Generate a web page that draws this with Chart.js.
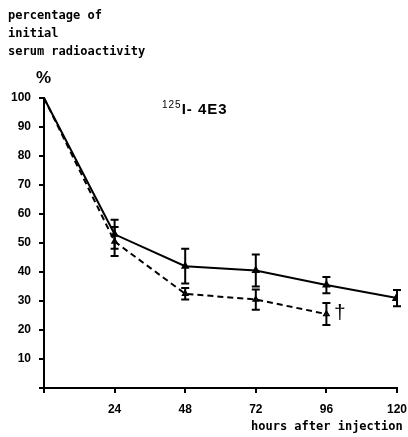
<!DOCTYPE html>
<html>
<head>
<meta charset="utf-8">
<script src="https://cdn.jsdelivr.net/npm/chart.js@4"></script>
<style>
  body { margin: 0; background: #fff; }
  #wrap { position: relative; width: 408px; height: 437px; }
  canvas { position: absolute; left: 0; top: 0; }
  .lbl { position: absolute; font-family: "DejaVu Sans Mono", monospace; font-size: 12px; font-weight: bold; color: #000; white-space: nowrap; }
  .sans { position: absolute; font-family: "Liberation Sans", Arial, sans-serif; font-weight: bold; color: #000; white-space: nowrap; }
</style>
</head>
<body>
<div id="wrap">
  <canvas id="chart" width="408" height="437"></canvas>
  <div class="lbl" style="left:8px;top:8px">percentage of</div>
  <div class="lbl" style="left:8px;top:26px">initial</div>
  <div class="lbl" style="left:8px;top:44px">serum radioactivity</div>
  <div class="sans" style="left:36px;top:68px;font-size:17px">%</div>
  <div class="sans" style="left:162px;top:99px;font-size:15px;letter-spacing:1px"><sup style="font-size:10px;font-weight:normal">125</sup>I- 4E3</div>
  <div class="lbl" style="left:251px;top:419px">hours after injection</div>
  <div class="sans" style="left:334px;top:300px;font-size:21px;font-weight:normal">†</div>
</div>
<script>
var hours = [0, 24, 48, 72, 96, 120];
var solidMean = [100, 53, 42, 40.5, 35.5, 31];
var solidErr = [0, 5, 6, 5.5, 2.8, 2.8];
var dashedHours = [0, 24, 48, 72, 96];
var dashedMean = [100, 50.5, 32.5, 30.5, 25.5];
var dashedErr = [0, 5, 2, 3.5, 3.8];

function toPoints(xs, ys) {
  var pts = [];
  for (i = 0; i < xs.length; i++) {
    pts.push({ x: xs[i], y: ys[i] });
  }
  return pts;
}

// vertical error bars with caps, drawn through the chart scales
var errorBars = {
  id: 'errorBars',
  afterDatasetsDraw: function(chart) {
    var ctx = chart.ctx;
    var xs = chart.scales.x, ys = chart.scales.y;
    chart.data.datasets.forEach(function(ds) {
      if (!ds.err) return;
      ctx.save();
      ctx.strokeStyle = '#000';
      ctx.lineWidth = 2;
      ds.data.forEach(function(p, i) {
        var e = ds.err[i];
        if (!e) return;
        var x = xs.getPixelForValue(p.x);
        var top = ys.getPixelForValue(p.y + e);
        var bot = ys.getPixelForValue(p.y - e);
        ctx.beginPath();
        ctx.moveTo(x, top); ctx.lineTo(x, bot);
        ctx.moveTo(x - 4, top); ctx.lineTo(x + 4, top);
        ctx.moveTo(x - 4, bot); ctx.lineTo(x + 4, bot);
        ctx.stroke();
      });
      ctx.restore();
    });
  }
};

var ctx = document.getElementById('chart');
var myChart = new Chart(ctx, {
  type: 'line',
  data: {
    datasets: [{
      data: toPoints(hours, solidMean),
      err: solidErr,
      borderColor: '#000',
      borderWidth: 2,
      pointStyle: 'triangle',
      pointRadius: [0, 3, 3, 3, 3, 4],
      pointBackgroundColor: '#000',
      pointBorderColor: '#000',
      tension: 0
    }, {
      data: toPoints(dashedHours, dashedMean),
      err: dashedErr,
      borderColor: '#000',
      borderWidth: 2,
      borderDash: [6, 4],
      pointStyle: 'triangle',
      pointRadius: [0, 3, 3, 3, 3],
      pointBackgroundColor: '#fff',
      pointBorderColor: '#000',
      pointBorderWidth: 1.5,
      tension: 0
    }]
  },
  options: {
    responsive: false,
    animation: false,
    layout: { padding: { top: 98, right: 0, left: 0, bottom: 0 } },
    plugins: { legend: { display: false }, tooltip: { enabled: false } },
    scales: {
      x: {
        type: 'linear',
        min: 0, max: 120,
        afterFit: function(s) { s.height = 49; s.paddingRight = 11; },
        border: { display: true, color: '#000', width: 2 },
        grid: { drawOnChartArea: false, drawTicks: true, tickLength: 5, color: '#000', lineWidth: 2 },
        ticks: {
          stepSize: 24, color: '#000', padding: 9,
          font: { family: 'Liberation Sans', size: 12, weight: 'bold' },
          callback: function(v) { return v === 0 ? '' : v; }
        }
      },
      y: {
        min: 0, max: 100,
        afterFit: function(s) { s.width = 44; },
        border: { display: true, color: '#000', width: 2 },
        grid: { drawOnChartArea: false, drawTicks: true, tickLength: 5, color: '#000', lineWidth: 2 },
        ticks: {
          stepSize: 10, color: '#000', padding: 8,
          font: { family: 'Liberation Sans', size: 12, weight: 'bold' },
          callback: function(v) { return v === 0 ? '' : v; }
        }
      }
    }
  },
  plugins: [errorBars]
});
</script>
</body>
</html>
